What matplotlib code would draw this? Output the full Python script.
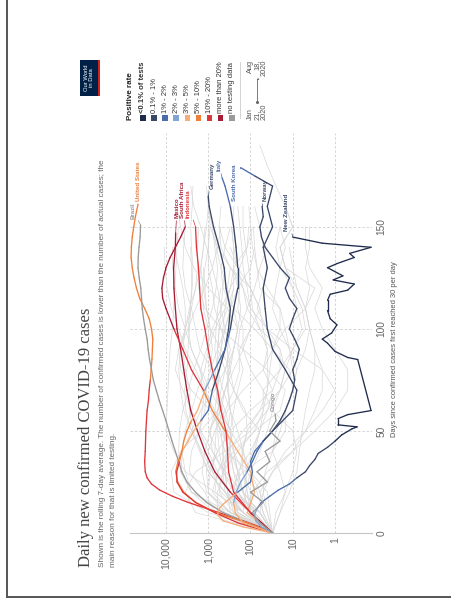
import numpy as np
import matplotlib
matplotlib.use("Agg")
import matplotlib.pyplot as plt
from matplotlib.collections import LineCollection
from matplotlib.patches import Rectangle
from matplotlib.lines import Line2D

W, H = 452, 600
plt.rcParams['font.family'] = ['Liberation Sans', 'DejaVu Sans']

# positive-rate buckets, darkest to "no data"
rate_labels = ["<0.1% of tests", "0.1% - 1%", "1% - 2%", "2% - 3%", "3% - 5%",
               "5% - 10%", "10% - 20%", "more than 20%", "no testing data"]
rate_colors = ["#1f2b4d", "#3a4868", "#4b6caa", "#82a4d4", "#f7ad76",
               "#ef7f3b", "#e0353a", "#a81d36", "#9a9a9a"]

# highlighted countries: days since 30 cases/day, 7-day average, rate bucket per point
us_days = [0, 3, 6, 9, 12, 15, 18, 21, 24, 27, 30, 35, 40, 45, 50, 55, 60, 65, 70, 75,
           80, 85, 90, 95, 100, 105, 110, 115, 120, 125, 130, 135, 140, 145, 150, 155, 161]
us_cases = [30, 60, 150, 400, 1100, 3000, 7000, 14000, 22000, 28000, 31000, 32000, 31000,
            30500, 30000, 29000, 28000, 26000, 25000, 23500, 22500, 21500, 21000, 20500,
            22000, 25000, 32000, 42000, 50000, 57000, 63000, 67000, 66000, 63000, 58000,
            53000, 46000]
us_rate = "6" * 19 + "5" * 18

brazil_days = [0, 5, 10, 15, 20, 25, 30, 35, 40, 45, 50, 55, 60, 65, 70, 75, 80, 85, 90,
               95, 100, 105, 110, 115, 120, 125, 130, 135, 140, 145, 151]
brazil_cases = [30, 120, 450, 1100, 2000, 3200, 4200, 5000, 6000, 7200, 8500, 10000, 12000,
                14500, 17000, 20000, 22000, 24500, 26500, 28000, 31000, 34000, 36500, 38000,
                39500, 43000, 46000, 45500, 43500, 41000, 40000]
brazil_rate = "8" * 31

mexico_days = [0, 10, 20, 30, 40, 50, 60, 70, 80, 90, 100, 110, 120, 130, 140, 147]
mexico_cases = [30, 100, 300, 700, 1200, 1800, 2600, 3200, 3800, 4500, 5500, 6000, 6500,
                6600, 6000, 5900]
mexico_rate = "66" + "7" * 14

safrica_days = [0, 10, 20, 30, 40, 50, 60, 70, 80, 90, 100, 110, 115, 120, 125, 130, 135,
                140, 145, 150]
safrica_cases = [30, 120, 80, 100, 200, 400, 800, 1300, 2500, 4000, 6500, 10000, 12000,
                 12500, 11500, 10000, 8000, 6000, 4500, 3500]
safrica_rate = "44444" + "55" + "666" + "7" * 10

indonesia_days = [0, 10, 20, 30, 40, 50, 60, 70, 80, 90, 100, 110, 120, 130, 140, 150]
indonesia_cases = [30, 100, 250, 330, 350, 380, 500, 600, 800, 1000, 1200, 1500, 1600,
                   1700, 1900, 2000]
indonesia_rate = "7" + "6" * 15

germany_days = [0, 5, 10, 15, 20, 25, 30, 35, 40, 45, 50, 55, 60, 70, 80, 90, 100, 110,
                120, 130, 140, 150, 160, 165]
germany_cases = [30, 120, 700, 2000, 3800, 5300, 5900, 5200, 4200, 3000, 2200, 1500, 1000,
                 800, 550, 400, 330, 300, 380, 420, 550, 750, 950, 1000]
germany_rate = "5" * 8 + "4" * 3 + "2" * 2 + "1" * 11

italy_days = [0, 5, 10, 15, 20, 25, 30, 35, 40, 45, 50, 55, 60, 70, 80, 90, 100, 110, 120,
              130, 140, 150, 160, 170, 174]
italy_cases = [30, 200, 700, 2000, 4000, 5500, 5600, 4800, 4200, 3800, 3200, 2500, 1800,
               1200, 700, 400, 300, 250, 200, 200, 220, 250, 300, 400, 470]
italy_rate = "6" * 7 + "5" * 4 + "4" * 2 + "3" + "2" * 2 + "1" * 6 + "2" * 3

skorea_days = [0, 3, 6, 9, 12, 15, 20, 25, 30, 35, 40, 45, 50, 60, 70, 80, 90, 100, 110,
               120, 130, 140, 150, 160, 170, 175, 179]
skorea_cases = [30, 150, 450, 600, 550, 400, 200, 100, 90, 100, 80, 50, 30, 10, 8, 15, 30,
                40, 45, 50, 40, 50, 30, 40, 30, 80, 170]
skorea_rate = "4" * 6 + "2" * 6 + "1" * 13 + "2" * 2

norway_days = [0, 5, 10, 15, 20, 25, 30, 35, 40, 45, 50, 55, 60, 65, 70, 75, 80, 85, 90,
               95, 100, 105, 110, 115, 120, 125, 130, 135, 140, 145, 150, 155, 160]
norway_cases = [30, 150, 230, 250, 220, 170, 120, 90, 70, 50, 30, 20, 15, 12, 10, 9, 10, 8,
                7, 9, 12, 10, 8, 12, 15, 12, 20, 30, 45, 55, 60, 50, 53]
norway_rate = "444" + "333" + "222" + "1" * 24

nz_days = [0, 3, 6, 9, 12, 15, 18, 21, 24, 27, 30, 33, 36, 39, 42, 45, 48, 51, 52, 53, 56,
           58, 60, 85, 86, 89, 93, 95, 98, 102, 105, 109, 114, 117, 119, 122, 124, 126,
           130, 132, 135, 137, 140, 142, 145]
nz_cases = [30, 55, 75, 80, 70, 55, 35, 22, 12, 8, 5, 4, 3, 2.5, 1.5, 1, 0.7, 0.4, 0.3,
            0.85, 0.85, 0.5, 0.14, 0.29, 0.5, 1.0, 1.5, 2, 1.2, 0.9, 1.3, 1.5, 1.5, 1.3,
            0.5, 0.35, 1.1, 0.65, 1.5, 0.9, 0.35, 0.45, 0.14, 2, 10]
nz_rate = "3" * 4 + "2" * 5 + "1" * 6 + "0" * 30

congo_days = [0, 5, 10, 15, 20, 25, 30, 35, 40, 45, 50, 55, 58]
congo_cases = [30, 60, 90, 50, 100, 40, 70, 35, 45, 20, 35, 25, 26]
congo_rate = "8" * 13

# every other country, sampled every 10 days
bg_days = [0, 10, 20, 30, 40, 50, 60, 70, 80, 90, 100, 110, 120, 130, 140, 150, 160, 170,
           180, 190]
bg_cases = [
    [30, 1000, 6500, 7500, 4500, 1500, 600, 400, 300, 250, 200, 350, 1000, 2200, 3500, 4500, 5500],
    [30, 300, 2500, 4500, 4000, 2500, 1500, 700, 400, 300, 400, 500, 600, 800, 1100, 1500, 2200, 2600],
    [30, 400, 2500, 4500, 5000, 4800, 4000, 3000, 2200, 1500, 1100, 800, 650, 600, 700, 800, 1000],
    [30, 150, 700, 3500, 6500, 10000, 9500, 9000, 8500, 8000, 7000, 6600, 6200, 5800, 5500, 5100],
    [30, 700, 1200, 2800, 2500, 1600, 1200, 1100, 1600, 2500, 3000, 2700, 2400, 2300, 2500, 2600, 2400, 2300],
    [30, 700, 2500, 3500, 4200, 3500, 2500, 1800, 1200, 1000, 1000, 1300, 1400, 1200, 1000, 1000],
    [30, 35, 40, 100, 400, 550, 350, 150, 50, 40, 50, 60, 100, 300, 600, 900, 1000, 1100],
    [30, 60, 300, 800, 700, 650, 600, 500, 400, 250, 200, 250, 200, 250, 120, 90],
    [30, 400, 1000, 900, 600, 300, 100, 30, 20, 20, 40, 100, 120, 150, 160, 180, 200],
    [30, 300, 800, 600, 250, 80, 50, 40, 40, 40, 60, 90, 100, 110, 130, 150, 150],
    [30, 300, 1100, 1400, 1200, 900, 600, 400, 250, 150, 100, 100, 150, 300, 500, 550, 500],
    [30, 300, 1000, 1100, 1000, 700, 400, 250, 180, 180, 100, 60, 100, 200, 400, 550],
    [30, 60, 250, 450, 550, 600, 550, 650, 800, 1000, 700, 400, 300, 250, 250, 280],
    [30, 100, 200, 450, 800, 1500, 2500, 4000, 6000, 5000, 3000, 2000, 1200, 800, 600, 500],
    [30, 100, 400, 1000, 1500, 2300, 2800, 2700, 3500, 4000, 3500, 2800, 2000, 1500, 1300, 1200],
    [30, 60, 150, 200, 300, 500, 800, 1400, 1500, 1100, 800, 500, 300, 180, 120, 110],
    [30, 200, 250, 200, 250, 300, 500, 600, 800, 1600, 2000, 2500, 3500, 4000, 3800, 3500],
    [30, 150, 500, 800, 1400, 2500, 3400, 3600, 3200, 3000, 2800, 2600, 2500, 2500, 2600],
    [30, 60, 150, 250, 300, 300, 400, 600, 700, 500, 400, 300, 200, 100, 80],
    [30, 40, 60, 100, 150, 200, 300, 450, 600, 600, 550, 350, 250],
    [30, 80, 200, 250, 320, 450, 550, 600, 550, 500, 450, 400, 350, 300],
    [30, 100, 150, 120, 80, 60, 150, 250, 300, 500, 900, 1100, 1200, 1300],
    [30, 100, 100, 150, 160, 120, 130, 250, 400, 600, 550, 500, 450, 400],
    [30, 600, 600, 450, 350, 250, 300, 330, 330, 250, 200, 170, 200, 200, 220, 250, 250],
    [30, 150, 700, 600, 350, 150, 60, 20, 10, 12, 15, 20, 60, 70, 80, 85],
    [30, 80, 200, 180, 150, 120, 60, 40, 35, 30, 20, 20, 40, 70, 90, 100, 110],
    [30, 80, 120, 130, 90, 60, 40, 20, 15, 10, 6, 8, 10, 20, 25, 20],
    [30, 250, 350, 150, 30, 15, 15, 10, 12, 30, 80, 250, 450, 500, 400, 300],
    [30, 200, 400, 1000, 600, 1000, 500, 400, 300, 350, 500, 700, 800, 1000, 1000, 900],
    [30, 150, 350, 400, 350, 350, 300, 350, 350, 350, 300, 300, 350, 500, 650, 750],
    [30, 200, 400, 450, 450, 400, 450, 650, 900, 800, 900, 1100, 1300, 1500],
    [30, 200, 250, 200, 100, 60, 50, 50, 100, 150, 150, 200, 180, 200, 250, 280],
    [30, 50, 70, 120, 150, 300, 250, 200, 150, 200, 180, 120, 80, 60, 40],
    [30, 20, 15, 20, 30, 25, 15, 10, 8, 12, 20, 30, 25, 20, 15, 20],
    [30, 20, 12, 8, 7, 6, 5, 4, 3, 3, 4, 5, 8, 10, 12],
    [30, 120, 90, 40, 10, 5, 3, 2, 2, 3, 4, 5, 4, 5, 4, 4],
    [30, 2000, 3500, 2000, 400, 100, 40, 30, 50, 30, 15, 5, 3, 15, 20, 10, 15, 25, 40, 60],
    [30, 50, 60, 30, 10, 3, 1, 0.5, 0.5, 1, 2, 3, 2, 4, 5, 5],
    [30, 150, 130, 100, 60, 40, 30, 50, 20, 10, 5, 6, 10, 15, 20, 10, 15],
    [30, 250, 550, 450, 200, 80, 20, 15, 40, 150, 500, 1200, 1700, 1500, 1300, 1100, 1000],
    [30, 60, 50, 30, 15, 5, 2, 1, 2, 10, 40, 70, 50, 40, 50, 60, 80],
    [30, 25, 15, 10, 8, 10, 30, 20, 15, 20, 60, 120, 150, 200, 300],
    [30, 300, 350, 400, 450, 500, 900, 2500, 4500, 5000, 3500, 2500, 2000, 1800, 1800, 1700],
    [30, 150, 400, 1000, 1600, 2500, 3800, 4500, 5000, 4500, 3500, 3500, 4000, 5000, 6500],
    [30, 100, 150, 200, 250, 400, 700, 1200, 2000, 3500, 5000, 7500, 9500, 10500, 11000],
    [30, 100, 120, 150, 250, 300, 500, 900, 1500, 2500, 3500, 5000, 6000, 7000, 7000],
    [30, 150, 300, 600, 1000, 1600, 1400, 1200, 900, 600, 400, 300, 250, 250],
    [30, 60, 150, 400, 800, 900, 700, 600, 600, 700, 650, 600, 500],
    [30, 40, 50, 45, 30, 20, 15, 10, 8, 5, 4, 5, 8, 15, 20],
]

highlights = [
    ("United States", us_days, us_cases, us_rate, (139, 201), 5),
    ("Brazil", brazil_days, brazil_cases, brazil_rate, (133, 219), 8),
    ("Mexico", mexico_days, mexico_cases, mexico_rate, (177, 218), 7),
    ("South Africa", safrica_days, safrica_cases, safrica_rate, (182.5, 218), 7),
    ("Indonesia", indonesia_days, indonesia_cases, indonesia_rate, (188, 218), 6),
    ("Germany", germany_days, germany_cases, germany_rate, (212, 189), 1),
    ("Italy", italy_days, italy_cases, italy_rate, (219, 171), 2),
    ("South Korea", skorea_days, skorea_cases, skorea_rate, (235, 201), 2),
    ("Norway", norway_days, norway_cases, norway_rate, (265, 201), 1),
    ("New Zealand", nz_days, nz_cases, nz_rate, (287, 231), 1),
    ("Congo", congo_days, congo_cases, congo_rate, (273, 411), 8),
]


def fx(px):
    return px / W


def fy(py):
    return 1 - py / H


fig = plt.figure(figsize=(W / 100, H / 100), dpi=100)
fig.patch.set_facecolor("white")

# frame edges
fig.add_artist(Line2D([fx(7), fx(7)], [fy(0), fy(597)], color="#555555", lw=1.4))
fig.add_artist(Line2D([fx(7), fx(452)], [fy(597), fy(597)], color="#555555", lw=1.4))

ax = fig.add_axes([fx(130), fy(533), (372 - 130) / W, (533 - 133) / H])
ax.set_xscale("log")
ax.set_xlim(10 ** 4.852, 10 ** -0.876)
ax.set_ylim(0, 196)

for v in [1, 10, 100, 1000, 10000]:
    ax.axvline(v, color="#d4d4d4", lw=0.7, ls=(0, (2.5, 2)), zorder=0)
for d in [50, 100, 150]:
    ax.axhline(d, color="#d4d4d4", lw=0.7, ls=(0, (2.5, 2)), zorder=0)

for s in ["top", "left", "right"]:
    ax.spines[s].set_visible(False)
ax.spines["bottom"].set_color("#c4c4c4")
ax.spines["bottom"].set_linewidth(0.8)

ax.set_xticks([1, 10, 100, 1000, 10000])
ax.set_xticklabels(["1", "10", "100", "1,000", "10,000"], rotation=90)
ax.minorticks_off()
ax.tick_params(axis="x", length=0, pad=3, labelsize=7.5, labelcolor="#666666")
ax.yaxis.tick_right()
ax.set_yticks([0, 50, 100, 150])
ax.set_yticklabels(["0", "50", "100", "150"], rotation=90, va="center")
ax.tick_params(axis="y", length=0, pad=3, labelsize=7.3, labelcolor="#666666")

for row in bg_cases:
    ax.plot(row, bg_days[:len(row)], color="#d8d8d8", lw=0.5, zorder=1)


def draw_country(days, cases, rate):
    pts = np.column_stack([cases, days])
    segs = np.stack([pts[:-1], pts[1:]], axis=1)
    cols = [rate_colors[int(c)] for c in rate[:-1]]
    lc = LineCollection(segs, colors=cols, linewidths=0.95, capstyle="round",
                        joinstyle="round", zorder=3)
    ax.add_collection(lc)


for name, days, cases, rate, (lx, ly), ci in highlights:
    draw_country(days, cases, rate)
    ax.annotate(name, xy=(cases[-1], days[-1]), xytext=(lx, H - ly),
                textcoords="figure pixels", rotation=90, ha="center", va="bottom",
                fontsize=4.4, fontweight="bold", color=rate_colors[ci],
                arrowprops=dict(arrowstyle="-", color=rate_colors[ci], lw=0.5,
                                shrinkA=0, shrinkB=0), zorder=4)

fig.text(fx(395), fy(349), "Days since confirmed cases first reached 30 per day",
         rotation=90, ha="center", va="center", fontsize=5.4, color="#555555")

# heading
fig.text(fx(86), fy(567), "Daily new confirmed COVID-19 cases", rotation=90,
         ha="center", va="bottom", fontsize=12, color="#444444",
         family=["Liberation Serif", "DejaVu Serif"])
fig.text(fx(103), fy(567), "Shown is the rolling 7-day average. The number of confirmed "
         "cases is lower than the number of actual cases; the", rotation=90,
         ha="center", va="bottom", fontsize=5.9, color="#666666")
fig.text(fx(114), fy(567), "main reason for that is limited testing.", rotation=90,
         ha="center", va="bottom", fontsize=5.9, color="#666666")

# logo
fig.add_artist(Rectangle((fx(80), fy(96)), 20 / W, 36 / H, transform=fig.transFigure,
                         facecolor="#002147", edgecolor="none"))
fig.add_artist(Rectangle((fx(98), fy(96)), 2 / W, 36 / H, transform=fig.transFigure,
                         facecolor="#ce261e", edgecolor="none"))
fig.text(fx(89), fy(78), "Our World\nin Data", rotation=90, ha="center", va="center",
         fontsize=4.2, color="white", multialignment="center", linespacing=1.0)

# legend
fig.text(fx(131), fy(120), "Positive rate", rotation=90, ha="center", va="bottom",
         fontsize=5.8, fontweight="bold", color="#222222")
for i, (lab, col) in enumerate(zip(rate_labels, rate_colors)):
    cx = 143 + i * 11.1
    fig.add_artist(Rectangle((fx(cx - 2.8), fy(121)), 5.6 / W, 5.6 / H,
                             transform=fig.transFigure, facecolor=col, edgecolor="none"))
    fig.text(fx(cx), fy(113), lab, rotation=90, ha="center", va="bottom", fontsize=5.5,
             color="#333333", fontweight="bold" if i == 0 else "normal")

fig.add_artist(Line2D([fx(240), fx(240)], [fy(62), fy(118)], color="#cccccc", lw=0.6))
fig.text(fx(257), fy(120), "Jan\n21,\n2020", rotation=90, ha="center", va="bottom",
         fontsize=5.3, color="#555555", multialignment="left", linespacing=1.0)
fig.text(fx(257), fy(60), "Aug\n18,\n2020", rotation=90, ha="center", va="top",
         fontsize=5.3, color="#555555", multialignment="right", linespacing=1.0)
fig.add_artist(Line2D([fx(257), fx(257)], [fy(102), fy(79)], color="#666666", lw=0.6,
                      marker="o", markersize=1.2, markevery=[0]))
fig.text(fx(257), fy(79), "\u25b2", ha="center", va="center", fontsize=3,
         color="#666666")

fig.savefig("out.png", dpi=100)
